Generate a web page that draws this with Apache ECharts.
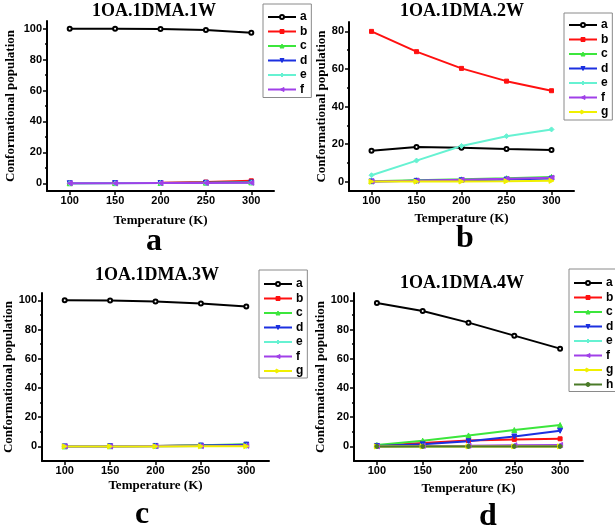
<!DOCTYPE html>
<html><head><meta charset="utf-8">
<script src="https://cdn.jsdelivr.net/npm/echarts@6/dist/echarts.min.js"></script>
<style>html,body{margin:0;padding:0;background:#fff}#c{width:615px;height:528px}</style>
</head><body><div id="c"></div>
<script>
var temps = [100, 150, 200, 250, 300];
var xTicks = [100, 150, 200, 250, 300];

// Panel a: 1OA.1DMA.1W
var a1 = [100, 100, 99.8, 99.1, 97.4];
var b1 = [0.1, 0.2, 0.4, 0.8, 1.6];
var c1 = [0, 0.1, 0.2, 0.4, 0.6];
var d1 = [0, 0.1, 0.1, 0.3, 0.5];
var e1 = [0, 0, 0.1, 0.2, 0.3];
var f1 = [0, 0, 0.1, 0.2, 0.3];

// Panel b: 1OA.1DMA.2W
var a2 = [16.4, 18.4, 18.0, 17.4, 16.9];
var b2 = [80.0, 69.2, 60.3, 53.5, 48.4];
var c2 = [0.2, 0.7, 1.2, 1.8, 2.5];
var d2 = [0.1, 0.4, 0.7, 1.1, 1.6];
var e2 = [3.4, 11.2, 19.0, 24.2, 27.8];
var f2 = [0.1, 0.5, 1.0, 1.5, 2.1];
var g2 = [0, 0, 0.1, 0.2, 0.4];

// Panel c: 1OA.1DMA.3W
var a3 = [100, 99.9, 99.2, 97.8, 95.8];
var b3 = [0, 0.1, 0.3, 0.6, 1.0];
var c3 = [0, 0.1, 0.3, 0.7, 1.4];
var d3 = [0, 0.1, 0.3, 0.6, 1.2];
var e3 = [0, 0, 0.1, 0.2, 0.3];
var f3 = [0, 0, 0.1, 0.2, 0.4];
var g3 = [0, 0, 0, 0.1, 0.1];

// Panel d: 1OA.1DMA.4W
var a4 = [98.2, 92.7, 84.7, 75.8, 66.9];
var b4 = [0.5, 2.3, 4.0, 4.8, 5.2];
var c4 = [1.0, 3.9, 7.5, 11.2, 14.6];
var d4 = [0.3, 1.4, 3.5, 6.8, 10.7];
var e4 = [0, 0.1, 0.2, 0.3, 0.4];
var f4 = [0, 0.3, 0.5, 0.8, 1.0];
var g4 = [0, 0, 0, 0, 0];
var h4 = [0, 0, 0, 0, 0];

var panelTitles = ['1OA.1DMA.1W', '1OA.1DMA.2W', '1OA.1DMA.3W', '1OA.1DMA.4W'];
var panelLetters = ['a', 'b', 'c', 'd'];
var yTicksA = [0, 20, 40, 60, 80, 100];
var yMinorA = [10, 30, 50, 70, 90];
var yTicksB = [0, 20, 40, 60, 80];
var yMinorB = [10, 30, 50, 70];

var panelData = [
  {a: a1, b: b1, c: c1, d: d1, e: e1, f: f1},
  {a: a2, b: b2, c: c2, d: d2, e: e2, f: f2, g: g2},
  {a: a3, b: b3, c: c3, d: d3, e: e3, f: f3, g: g3},
  {a: a4, b: b4, c: c4, d: d4, e: e4, f: f4, g: g4, h: h4}
];

var styles = {
  a: {color: '#000000', symbol: 'emptyCircle', size: 4, rot: 0},
  b: {color: '#ff1010', symbol: 'rect', size: 4, rot: 0},
  c: {color: '#3ce63c', symbol: 'triangle', size: 5, rot: 0},
  d: {color: '#1c30e0', symbol: 'triangle', size: 5, rot: 180},
  e: {color: '#66f2d2', symbol: 'diamond', size: 5, rot: 0},
  f: {color: '#a040e8', symbol: 'triangle', size: 5, rot: 90},
  g: {color: '#f0f000', symbol: 'triangle', size: 5, rot: -90},
  h: {color: '#4a7a28', symbol: 'circle', size: 4, rot: 0}
};

var grids = [
  {left: 47, top: 21, width: 227, height: 170},
  {left: 349, top: 22, width: 225, height: 169},
  {left: 42, top: 293, width: 227, height: 168},
  {left: 354, top: 293, width: 229, height: 168}
];
var yRanges = [[-5, 105], [-5, 85], [-10, 105], [-10, 105]];
var yNameGaps = [30, 20, 26, 23];
var xNameGaps = [23, 21, 18, 21];
var legendPos = [
  {left: 263, top: 4, padding: [6, 4, 1, 4]},
  {left: 564, top: 13, padding: [5, 4, 1, 4]},
  {left: 259, top: 270, padding: [7, 4, 0, 4]},
  {left: 569, top: 269, padding: [7, 4, 0, 4]}
];
var titlePos = [[154, 11], [462, 11], [157, 275], [462, 283]];
var letterPos = [[154, 242], [465, 239], [142, 515], [488, 517]];

var serif = '"Liberation Serif","Times New Roman",serif';
var sans = '"Liberation Sans",Arial,sans-serif';

var option = {
  animation: false,
  backgroundColor: '#ffffff',
  grid: grids.map(function (g) { return Object.assign({containLabel: false}, g); }),
  xAxis: [], yAxis: [], series: [], legend: [], graphic: []
};

for (var i = 0; i < 4; i++) {
  option.xAxis.push({
    type: 'value', gridIndex: i, min: 75, max: 325,
    name: 'Temperature (K)', nameLocation: 'middle', nameGap: xNameGaps[i],
    nameTextStyle: {fontFamily: serif, fontWeight: 'bold', fontSize: 13, color: '#000'},
    axisLine: {show: true, onZero: false, lineStyle: {color: '#000', width: 2}},
    axisTick: {show: true, inside: false, length: 4, lineStyle: {width: 1.5}, customValues: xTicks},
    axisLabel: {customValues: xTicks, fontFamily: sans, fontWeight: 'bold', fontSize: 11, color: '#000', margin: 4},
    splitLine: {show: false}
  });
  var yt = (i === 1) ? yTicksB : yTicksA;
  var ym = (i === 1) ? yMinorB : yMinorA;
  option.yAxis.push({
    type: 'value', gridIndex: i, min: yRanges[i][0], max: yRanges[i][1],
    name: 'Conformational population', nameLocation: 'middle', nameGap: yNameGaps[i], nameRotate: 90,
    nameTextStyle: {fontFamily: serif, fontWeight: 'bold', fontSize: 13, color: '#000'},
    axisLine: {show: true, onZero: false, lineStyle: {color: '#000', width: 2}},
    axisTick: {show: true, inside: false, length: 4, lineStyle: {width: 1.5}, customValues: yt},
    axisLabel: {customValues: yt, fontFamily: sans, fontWeight: 'bold', fontSize: 11, color: '#000', margin: 5},
    splitLine: {show: false}
  });
  option.yAxis.push({
    type: 'value', gridIndex: i, min: yRanges[i][0], max: yRanges[i][1], position: 'left',
    axisLine: {show: false},
    axisTick: {show: true, inside: false, length: 2, lineStyle: {width: 1.5, color: '#000'}, customValues: ym},
    axisLabel: {show: false},
    splitLine: {show: false}
  });
  var keys = Object.keys(panelData[i]);
  keys.forEach(function (k) {
    var s = styles[k];
    option.series.push({
      type: 'line', name: k, xAxisIndex: i, yAxisIndex: 2 * i,
      data: temps.map(function (t, j) { return [t, panelData[i][k][j]]; }),
      symbol: s.symbol, symbolSize: s.size, symbolRotate: s.rot,
      showAllSymbol: true,
      itemStyle: {color: s.color, borderColor: s.color},
      lineStyle: {color: s.color, width: 2},
      emphasis: {disabled: true}
    });
  });
  option.legend.push(Object.assign({
    orient: 'vertical', data: keys,
    itemWidth: 28, itemHeight: 5, itemGap: 0.5,
    borderColor: '#8a8a8a', borderWidth: 1,
    selectedMode: false,
    itemStyle: {borderWidth: 1},
    textStyle: {fontFamily: sans, fontWeight: 'bold', fontSize: 12, lineHeight: 14, color: '#000', padding: [0, 0, 0, -1]}
  }, legendPos[i]));
  option.graphic.push({
    type: 'text', x: titlePos[i][0], y: titlePos[i][1],
    style: {text: panelTitles[i], textAlign: 'center', textVerticalAlign: 'middle',
      font: 'bold 18px ' + serif, fill: '#000'}
  });
  option.graphic.push({
    type: 'text', x: letterPos[i][0], y: letterPos[i][1],
    style: {text: panelLetters[i], textAlign: 'center', textVerticalAlign: 'middle',
      font: 'bold 32px ' + serif, fill: '#000'}
  });
}

var chart = echarts.init(document.getElementById('c'), null, {renderer: 'canvas'});
chart.setOption(option);
</script>
</body></html>
